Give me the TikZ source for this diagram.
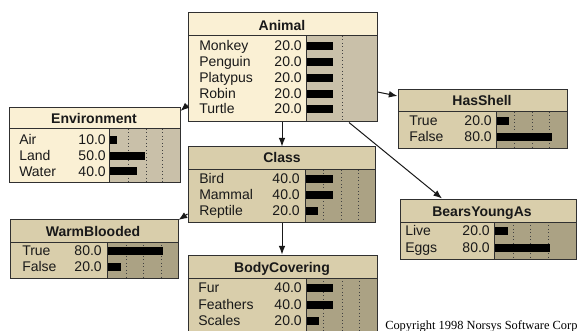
\documentclass[tikz,border=0pt]{standalone}
\usepackage{fontspec}
\setmainfont{Liberation Sans}
\newfontfamily\copyfont{Liberation Serif}
\usetikzlibrary{fit,arrows.meta}
\definecolor{lightbody}{HTML}{FAF0D4}
\definecolor{lightbar}{HTML}{C9C0A9}
\definecolor{tanbody}{HTML}{D9CEAB}
\definecolor{tanbar}{HTML}{ABA284}
\definecolor{bord}{HTML}{303030}
\tikzset{
  lbl/.style={inner sep=0pt, font=\fontsize{10.5}{12}\selectfont, text=black!90},
  ttl/.style={inner sep=0pt, font=\fontsize{10.5}{12}\selectfont\bfseries, text=black!90},
  arr/.style={draw=black!90, line width=0.75pt, -{Latex[length=6.5pt,width=5pt]}},
  dots/.style={draw=black!75, line width=0.6pt, dotted},
}
% #1 name, #2 x1, #3 y1, #4 x2, #5 y2, #6 ysep, #7 xbar, #8 body colour, #9 bar colour
\newcommand\nbox[9]{%
  \fill[#8] (#2,#3) rectangle (#4,#5);
  \fill[#9] (#7,#6) rectangle (#4,#5);
}
\newcommand\nframe[7]{%
  \node[fit={(#2,#3)(#4,#5)}, inner sep=0pt, draw=bord, line width=0.75pt] (#1) {};
  \draw[bord, line width=0.75pt] (#2,#6) -- (#4,#6) (#7,#6) -- (#7,#5);
}
% #1 name, #2 label x, #3 baseline, #4 label, #5 number x, #6 value, #7 bar x, #8 bar end
\newcommand\nrow[8]{%
  \fill[black] (#7,{#3-8.5}) rectangle (#8,{#3-0.5});
  \node[lbl, anchor=base west] (#1l) at (#2,#3) {#4};
  \node[lbl, anchor=base east] (#1v) at (#5,#3) {#6};
}
\begin{document}
\begin{tikzpicture}[x=0.75pt,y=-0.75pt]
\useasboundingbox (0,0) rectangle (577,331);
\clip (0,0) rectangle (577,331);
\fill[white] (0,0) rectangle (577,331);

% Animal
\nbox{animal}{188}{13}{377}{122}{36}{306}{lightbody}{lightbar}
\draw[dots] (342,36) -- (342,122);
\nrow{a1}{199}{51}{Monkey}{302}{20.0}{306}{333}
\nrow{a2}{199}{66.75}{Penguin}{302}{20.0}{306}{333}
\nrow{a3}{199}{82.5}{Platypus}{302}{20.0}{306}{333}
\nrow{a4}{199}{98.25}{Robin}{302}{20.0}{306}{333}
\nrow{a5}{199}{114}{Turtle}{302}{20.0}{306}{333}
\nframe{animal}{188}{13}{377}{122}{36}{306}
\node[ttl, anchor=base] (animalt) at (282,31) {Animal};

% Environment
\nbox{env}{9}{108}{180}{183}{129}{109}{lightbody}{lightbar}
\draw[dots] (128,129) -- (128,183) (146,129) -- (146,183) (162,129) -- (162,183);
\nrow{e1}{19}{144.5}{Air}{106}{10.0}{109}{117}
\nrow{e2}{19}{160.25}{Land}{106}{50.0}{109}{145}
\nrow{e3}{19}{176}{Water}{106}{40.0}{109}{137}
\nframe{env}{9}{108}{180}{183}{129}{109}
\node[ttl, anchor=base] (envt) at (94,124) {Environment};

% HasShell
\nbox{shell}{398}{90}{567}{149}{112}{496}{tanbody}{tanbar}
\draw[dots] (514,112) -- (514,149) (532,112) -- (532,149) (549,112) -- (549,149);
\nrow{h1}{409}{126}{True}{492}{20.0}{496}{509}
\nrow{h2}{409}{142}{False}{492}{80.0}{496}{552}
\nframe{shell}{398}{90}{567}{149}{112}{496}
\node[ttl, anchor=base] (shellt) at (482,106) {HasShell};

% Class
\nbox{class}{188}{147}{375}{222}{170}{305}{tanbody}{tanbar}
\draw[dots] (323,170) -- (323,222) (341,170) -- (341,222) (358,170) -- (358,222);
\nrow{c1}{199}{183.3}{Bird}{300}{40.0}{305}{333}
\nrow{c2}{199}{199.3}{Mammal}{300}{40.0}{305}{333}
\nrow{c3}{199}{215}{Reptile}{300}{20.0}{305}{318}
\nframe{class}{188}{147}{375}{222}{170}{305}
\node[ttl, anchor=base] (classt) at (282,163) {Class};

% WarmBlooded
\nbox{warm}{10}{219}{178}{278}{242}{107}{tanbody}{tanbar}
\draw[dots] (126,242) -- (126,278) (143,242) -- (143,278) (161,242) -- (161,278);
\nrow{w1}{22}{255.7}{True}{102}{80.0}{107}{163}
\nrow{w2}{22}{271.7}{False}{102}{20.0}{107}{121}
\nframe{warm}{10}{219}{178}{278}{242}{107}
\node[ttl, anchor=base] (warmt) at (93,236) {WarmBlooded};

% BearsYoungAs
\nbox{bears}{400}{199}{576}{259}{222}{494}{tanbody}{tanbar}
\draw[dots] (513,222) -- (513,259) (530,222) -- (530,259) (548,222) -- (548,259);
\nrow{b1}{405}{235.7}{Live}{490}{20.0}{494}{508}
\nrow{b2}{405}{252.3}{Eggs}{490}{80.0}{494}{550}
\nframe{bears}{400}{199}{576}{259}{222}{494}
\node[ttl, anchor=base] (bearst) at (482,216) {BearsYoungAs};

% BodyCovering
\nbox{body}{188}{255}{377}{345}{278}{306}{tanbody}{tanbar}
\draw[dots] (323,278) -- (323,345) (342,278) -- (342,345) (359,278) -- (359,345);
\nrow{d1}{198}{292.7}{Fur}{302}{40.0}{306}{333}
\nrow{d2}{198}{309}{Feathers}{302}{40.0}{306}{333}
\nrow{d3}{198}{325}{Scales}{302}{20.0}{306}{319}
\nframe{body}{188}{255}{377}{345}{278}{306}
\node[ttl, anchor=base] (bodyt) at (282,272) {BodyCovering};

% connectors
\draw[arr] (animal.west |- 0,105) -- (env.east |- 0,111);
\draw[arr] (animal.east |- 0,92) -- (shell.west |- 0,96);
\draw[arr] (animal.south -| 282,0) -- (class.north -| 282,0);
\draw[arr] (animal.south -| 349,0) -- (bears.north -| 442,0);
\draw[arr] (class.west |- 0,214) -- (warm.east |- 0,220);
\draw[arr] (class.south -| 282,0) -- (body.north -| 282,0);

% copyright
\node[inner sep=0pt, anchor=base west, font=\copyfont\fontsize{9.3}{11}\selectfont] (copy) at (385,329) {Copyright 1998 Norsys Software Corp};
\end{tikzpicture}
\end{document}
